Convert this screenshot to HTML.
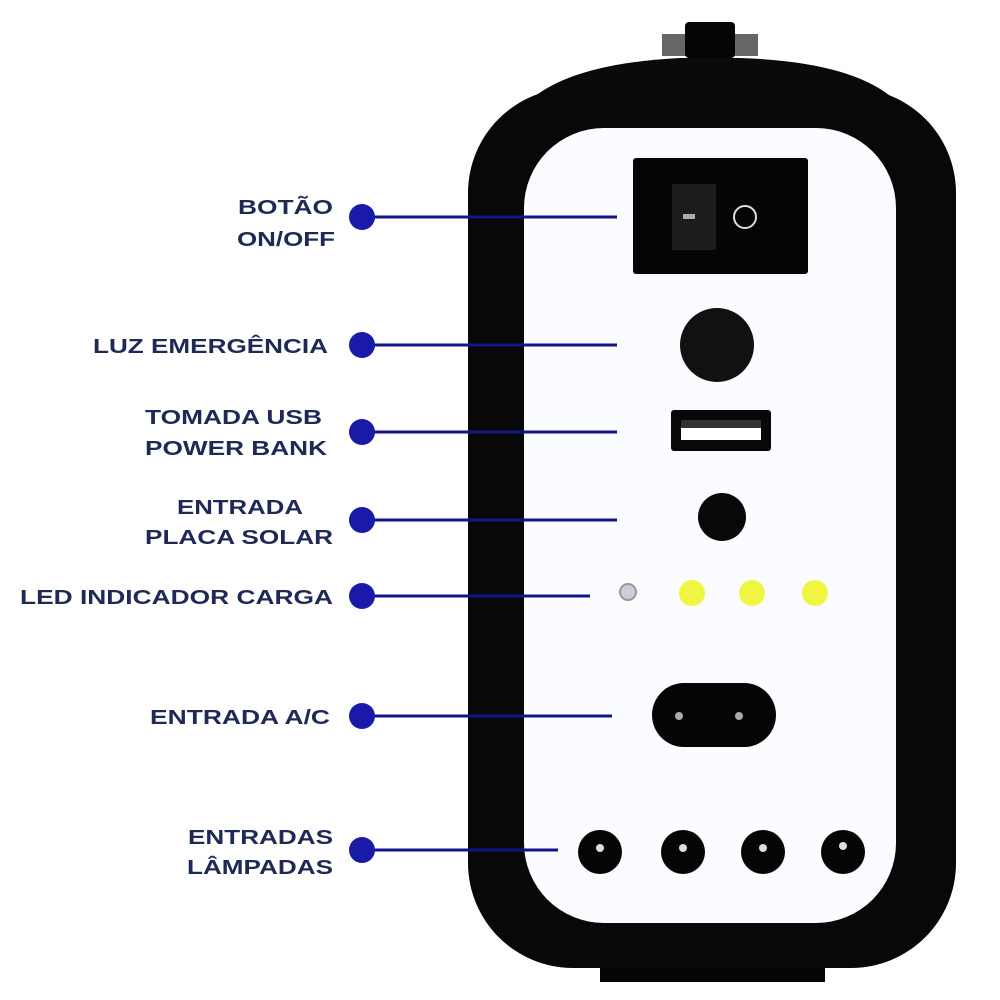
<!DOCTYPE html>
<html><head><meta charset="utf-8"><style>html,body{margin:0;padding:0;background:#fff}svg{display:block}</style></head>
<body>
<svg width="1000" height="1000" viewBox="0 0 1000 1000" xmlns="http://www.w3.org/2000/svg">
<rect width="1000" height="1000" fill="#fff"/>
<!-- top handle -->
<path d="M525 105 Q565 64 680 58 L740 58 Q860 62 900 105 Z" fill="#0a0a0a"/>
<rect x="662" y="34" width="24" height="22" fill="#666"/>
<rect x="734" y="34" width="24" height="22" fill="#666"/>
<rect x="685" y="22" width="50" height="36" rx="4" fill="#050505"/>
<!-- body -->
<rect x="600" y="950" width="225" height="32" fill="#050505"/>
<rect x="468" y="88" width="488" height="880" rx="105" fill="#080808"/>
<rect x="524" y="128" width="372" height="795" rx="80" fill="#fbfcff"/>
<!-- switch -->
<rect x="633" y="158" width="175" height="116" rx="3" fill="#050505"/>
<rect x="672" y="184" width="44" height="66" fill="#1c1c1c"/>
<rect x="683" y="214" width="12" height="5" fill="#aaa"/>
<circle cx="745" cy="217" r="11" fill="none" stroke="#ddd" stroke-width="2"/>
<!-- emergency -->
<circle cx="717" cy="345" r="37" fill="#111"/>
<!-- usb -->
<rect x="671" y="410" width="100" height="41" rx="3" fill="#080808"/>
<rect x="681" y="420" width="80" height="20" fill="#fff"/>
<rect x="681" y="420" width="80" height="8" fill="#333"/>
<!-- solar jack -->
<circle cx="722" cy="517" r="24" fill="#080808"/>
<!-- LEDs -->
<circle cx="628" cy="592" r="8" fill="#ccd" stroke="#999" stroke-width="2"/>
<circle cx="692" cy="593" r="13" fill="#f0f542"/>
<circle cx="752" cy="593" r="13" fill="#f0f542"/>
<circle cx="815" cy="593" r="13" fill="#f0f542"/>
<!-- AC -->
<rect x="652" y="683" width="124" height="64" rx="32" fill="#050505"/>
<circle cx="679" cy="716" r="4" fill="#aaa"/>
<circle cx="739" cy="716" r="4" fill="#aaa"/>
<!-- lamp jacks -->
<g fill="#050505"><circle cx="600" cy="852" r="22"/><circle cx="683" cy="852" r="22"/><circle cx="763" cy="852" r="22"/><circle cx="843" cy="852" r="22"/></g>
<g fill="#ddd"><circle cx="600" cy="848" r="4"/><circle cx="683" cy="848" r="4"/><circle cx="763" cy="848" r="4"/><circle cx="843" cy="846" r="4"/></g>
<!-- connectors -->
<g stroke="#14148a" stroke-width="3">
<line x1="362" y1="217" x2="617" y2="217"/>
<line x1="362" y1="345" x2="617" y2="345"/>
<line x1="362" y1="432" x2="617" y2="432"/>
<line x1="362" y1="520" x2="617" y2="520"/>
<line x1="362" y1="596" x2="590" y2="596"/>
<line x1="362" y1="716" x2="612" y2="716"/>
<line x1="362" y1="850" x2="558" y2="850"/>
</g>
<g fill="#1a1aa8"><circle cx="362" cy="217" r="13"/><circle cx="362" cy="345" r="13"/><circle cx="362" cy="432" r="13"/><circle cx="362" cy="520" r="13"/><circle cx="362" cy="596" r="13"/><circle cx="362" cy="716" r="13"/><circle cx="362" cy="850" r="13"/></g>
<!-- labels -->
<g font-family="Liberation Sans, sans-serif" font-weight="bold" font-size="20" fill="#1e2a55">
<text x="238" y="214" textLength="95" lengthAdjust="spacingAndGlyphs">BOTÃO</text>
<text x="237" y="246" textLength="98" lengthAdjust="spacingAndGlyphs">ON/OFF</text>
<text x="93" y="353" textLength="235" lengthAdjust="spacingAndGlyphs">LUZ EMERGÊNCIA</text>
<text x="145" y="424" textLength="177" lengthAdjust="spacingAndGlyphs">TOMADA USB</text>
<text x="145" y="455" textLength="182" lengthAdjust="spacingAndGlyphs">POWER BANK</text>
<text x="177" y="514" textLength="126" lengthAdjust="spacingAndGlyphs">ENTRADA</text>
<text x="145" y="544" textLength="188" lengthAdjust="spacingAndGlyphs">PLACA SOLAR</text>
<text x="20" y="604" textLength="313" lengthAdjust="spacingAndGlyphs">LED INDICADOR CARGA</text>
<text x="150" y="724" textLength="180" lengthAdjust="spacingAndGlyphs">ENTRADA A/C</text>
<text x="188" y="844" textLength="145" lengthAdjust="spacingAndGlyphs">ENTRADAS</text>
<text x="187" y="874" textLength="146" lengthAdjust="spacingAndGlyphs">LÂMPADAS</text>
</g>
</svg>
</body></html>
